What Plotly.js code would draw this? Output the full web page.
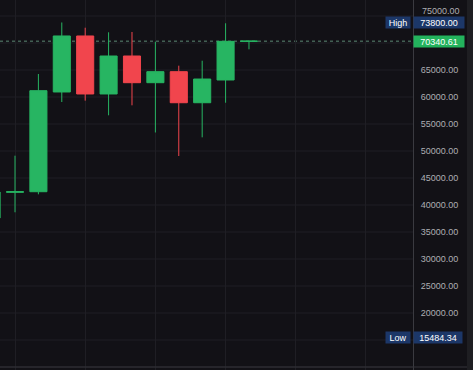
<!DOCTYPE html>
<html>
<head>
<meta charset="utf-8">
<script src="https://cdn.plot.ly/plotly-3.0.1.min.js"></script>
<style>
html,body{margin:0;padding:0;background:#121116;overflow:hidden;}
#chart{width:473px;height:370px;}
</style>
</head>
<body>
<div id="chart"></div>
<script>
// Candle data
const idx   = [0, 1, 2, 3, 4, 5, 6, 7, 8, 9, 10, 11];
const open  = [37600, 42350, 42460, 60930, 71300, 60560, 67590, 62650, 64690, 58940, 63150, 70310];
const high  = [42800, 49130, 64260, 73800, 72830, 71980, 72040, 70240, 65800, 66720, 73650, 70400];
const low   = [37000, 38650, 41980, 59070, 59320, 56610, 58460, 53430, 49070, 52530, 58940, 68830];
const close = [42400, 42460, 61170, 71300, 60560, 67590, 62650, 64690, 58940, 63330, 70310, 70340.61];

// Price-scale labels that are visible (70000 and 15000 sit under the value tags)
const yTicks = [10000, 20000, 25000, 30000, 35000, 40000, 45000, 50000, 55000, 60000, 65000];
const gridTicks = [10000, 15000, 20000, 25000, 30000, 35000, 40000, 45000, 50000, 55000, 60000, 65000, 70000, 75000];
const topTick = 75000;

const highValue = 73800.00;
const lowValue = 15484.34;
const lastValue = 70340.61;

const green = '#27b562';
const red = '#f1454d';
const labelBlue = '#1c3768';
const gridColor = '#1f1e24';

const trace = {
  type: 'candlestick',
  x: idx,
  open: open, high: high, low: low, close: close,
  increasing: {line: {color: green, width: 1}, fillcolor: green},
  decreasing: {line: {color: red, width: 1}, fillcolor: red},
  whiskerwidth: 0,
  hoverinfo: 'skip',
  showlegend: false
};

const fontFam = '"Liberation Sans", Arial, sans-serif';
const tickColor = '#aeaeb3';

const shapes = [];
// horizontal grid lines (every 5000, including those hidden behind value tags)
gridTicks.forEach(v => shapes.push({
  type: 'line', xref: 'paper', yref: 'y', x0: 0, x1: 1, y0: v, y1: v,
  line: {color: gridColor, width: 1}, layer: 'below'
}));
shapes.push(
  {type: 'line', xref: 'paper', yref: 'y', x0: 0, x1: 1, y0: lastValue, y1: lastValue,
   line: {color: 'rgba(100,150,125,0.9)', width: 1, dash: 'dot'}, layer: 'below'},
  {type: 'line', xref: 'paper', yref: 'paper', x0: 0, x1: 473/413, y0: 3/370, y1: 3/370,
   line: {color: '#34343a', width: 1}, layer: 'above'},
  {type: 'rect', xref: 'paper', yref: 'paper', x0: 467/413, x1: 480/413, y0: 0, y1: 1,
   fillcolor: '#1e1e22', line: {width: 0}, layer: 'above'}
);

const layout = {
  width: 473, height: 370,
  margin: {l: 0, r: 60, t: 0, b: 0},
  paper_bgcolor: '#121116',
  plot_bgcolor: '#121116',
  showlegend: false,
  boxgap: 0.27,
  boxgroupgap: 0,
  xaxis: {
    range: [0.359, 18.01],
    showticklabels: false,
    ticks: '',
    tick0: 1, dtick: 3,
    showgrid: true, gridcolor: gridColor, gridwidth: 1,
    zeroline: false,
    rangeslider: {visible: false},
    fixedrange: true
  },
  yaxis: {
    side: 'right',
    range: [9444, 77963],
    tickmode: 'array',
    tickvals: yTicks,
    tickformat: '.2f',
    ticks: '',
    ticklabelstandoff: 5,
    tickfont: {family: fontFam, size: 9, color: tickColor},
    showgrid: false,
    zeroline: false,
    showline: true, linecolor: '#3a3a40', linewidth: 1,
    fixedrange: true
  },
  shapes: shapes,
  annotations: [
    {xref: 'paper', yref: 'paper', x: 420/413, y: 1 - 11/370, xanchor: 'left', yanchor: 'middle',
     text: topTick.toFixed(2), showarrow: false, font: {family: fontFam, size: 9, color: tickColor}},
    {xref: 'paper', yref: 'y', x: 1, y: highValue, xanchor: 'left', yanchor: 'middle',
     text: highValue.toFixed(2), showarrow: false, width: 50, height: 11, borderpad: 0,
     bgcolor: labelBlue, font: {family: fontFam, size: 9, color: '#ffffff'}},
    {xref: 'paper', yref: 'y', x: 411/413, y: highValue, xanchor: 'right', yanchor: 'middle',
     text: 'High', showarrow: false, width: 24, height: 11, borderpad: 0,
     bgcolor: labelBlue, font: {family: fontFam, size: 9, color: '#ffffff'}},
    {xref: 'paper', yref: 'y', x: 1, y: lastValue, xanchor: 'left', yanchor: 'middle',
     text: lastValue.toFixed(2), showarrow: false, width: 50, height: 11, borderpad: 0,
     bgcolor: '#23b35d', font: {family: fontFam, size: 9, color: '#ffffff'}},
    {xref: 'paper', yref: 'y', x: 1, y: lowValue, xanchor: 'left', yanchor: 'middle',
     text: lowValue.toFixed(2), showarrow: false, width: 48, height: 11, borderpad: 0,
     bgcolor: labelBlue, font: {family: fontFam, size: 9, color: '#ffffff'}},
    {xref: 'paper', yref: 'y', x: 411/413, y: lowValue, xanchor: 'right', yanchor: 'middle',
     text: 'Low', showarrow: false, width: 24, height: 11, borderpad: 0,
     bgcolor: labelBlue, font: {family: fontFam, size: 9, color: '#ffffff'}}
  ]
};

Plotly.newPlot('chart', [trace], layout, {displayModeBar: false, staticPlot: true});
</script>
</body>
</html>
